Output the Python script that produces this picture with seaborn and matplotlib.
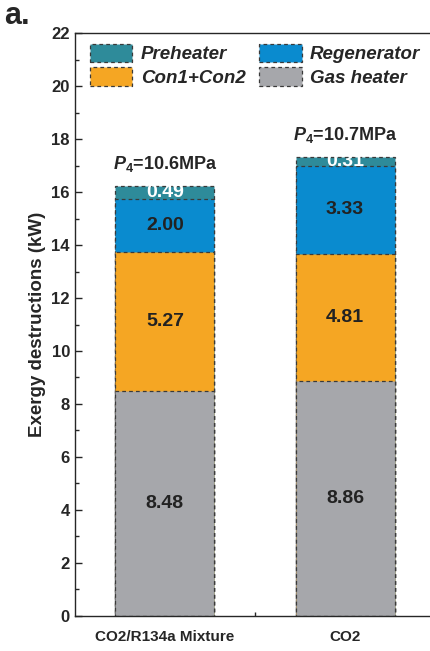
import numpy as np
import pandas as pd
import matplotlib.pyplot as plt
import seaborn as sns
from matplotlib.patches import Patch
from matplotlib.ticker import MultipleLocator, FixedLocator

# dados
casos = ["CO2/R134a Mixture", "CO2"]
componentes = ["Gas heater", "Con1+Con2", "Regenerator", "Preheater"]
gas_heater = [8.48, 8.86]
con = [5.27, 4.81]
regenerator = [2.00, 3.33]
preheater = [0.49, 0.31]
pressao = ["10.6", "10.7"]

cores = {"Gas heater": "#a6a7ab", "Con1+Con2": "#f5a623",
         "Regenerator": "#0a8bcf", "Preheater": "#2e8b9a"}
cor_texto = {"Gas heater": "#222222", "Con1+Con2": "#222222",
             "Regenerator": "#222222", "Preheater": "white"}

valores = np.array([gas_heater, con, regenerator, preheater])
acumulado = np.cumsum(valores, axis=0)

sns.set_style("ticks")
plt.rcParams['font.family'] = ['Liberation Sans', 'DejaVu Sans']
plt.rcParams['font.weight'] = 'bold'
plt.rcParams['mathtext.fontset'] = 'custom'
plt.rcParams['mathtext.it'] = 'Liberation Sans:italic:bold'
plt.rcParams['mathtext.rm'] = 'Liberation Sans:bold'

fig = plt.figure(figsize=(4.3, 6.51), dpi=100)
ax = fig.add_axes([0.174, 0.054, 0.838, 0.895])

# barras empilhadas (desenha do topo para baixo)
for i in range(len(componentes) - 1, -1, -1):
    df = pd.DataFrame({"caso": casos, "valor": acumulado[i]})
    sns.barplot(data=df, x="caso", y="valor", color=cores[componentes[i]],
                width=0.55, edgecolor="#3a3a3a", linewidth=0.9,
                linestyle=(0, (3, 2.5)), saturation=1, ax=ax)

# rótulos de valor
for i, comp in enumerate(componentes):
    for j in range(len(casos)):
        meio = acumulado[i, j] - valores[i, j] / 2
        ax.text(j, meio, f"{valores[i, j]:.2f}", ha="center", va="center",
                fontsize=14, fontweight="bold", color=cor_texto[comp])

for j in range(len(casos)):
    ax.text(j, acumulado[-1, j] + 0.45, r"$P_{4}$=" + pressao[j] + "MPa",
            ha="center", va="bottom", fontsize=13, fontweight="bold")

ax.set_xlim(-0.5, 1.5)
ax.set_ylim(0, 22)
ax.yaxis.set_major_locator(MultipleLocator(2))
ax.yaxis.set_minor_locator(MultipleLocator(1))
ax.xaxis.set_minor_locator(FixedLocator([0.5]))
ax.tick_params(direction="in", which="both", labelsize=12, width=1)
ax.tick_params(axis="x", labelsize=11, pad=10)
ax.tick_params(which="major", length=5)
ax.tick_params(which="minor", length=3)
for lab in ax.get_xticklabels() + ax.get_yticklabels():
    lab.set_fontweight("bold")
for s in ax.spines.values():
    s.set_linewidth(1)

ax.set_xlabel("")
ax.set_ylabel("Exergy destructions (kW)", fontsize=13.5, fontweight="bold",
              labelpad=4)

# legenda
ordem = ["Preheater", "Con1+Con2", "Regenerator", "Gas heater"]
handles = [Patch(facecolor=cores[c], edgecolor="#3a3a3a", linestyle=(0, (3, 2.5)),
                 linewidth=0.9) for c in ordem]
ax.legend(handles, ordem, ncol=2, loc="upper left", bbox_to_anchor=(0.042, 0.982),
          frameon=False, borderpad=0, borderaxespad=0,
          handlelength=2.25, handleheight=1.15, columnspacing=0.75,
          handletextpad=0.45, labelspacing=0.2,
          prop={"style": "italic", "weight": "bold", "size": 13.5})

fig.text(0.01, 0.975, "a.", fontsize=22, fontweight="bold", va="center")

fig.savefig("out.png", dpi=100)
